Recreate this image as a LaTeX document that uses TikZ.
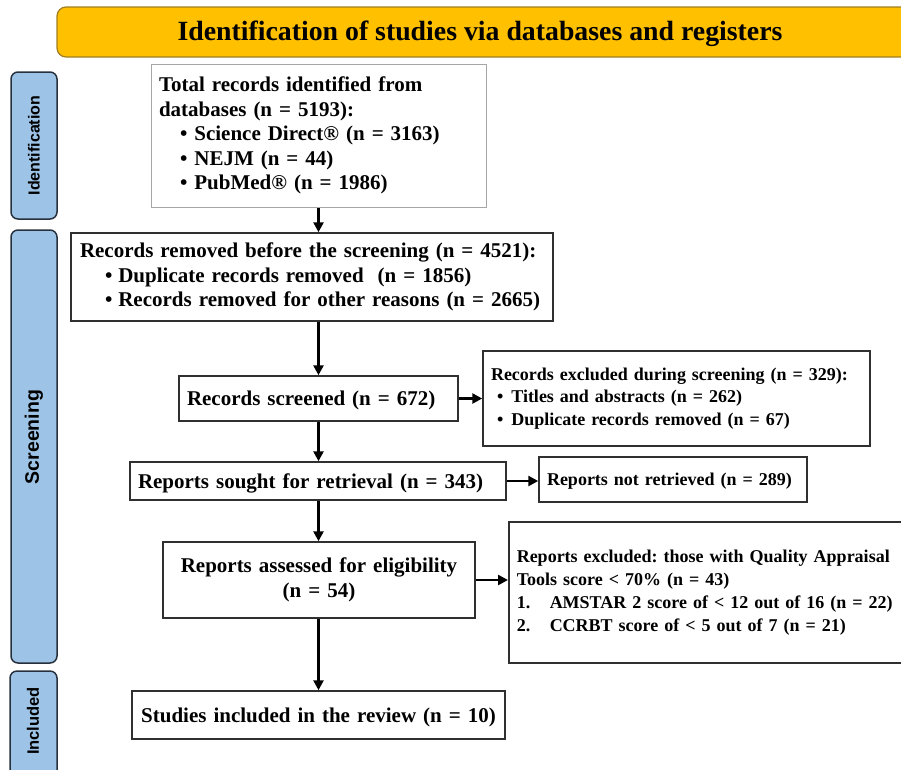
\documentclass[tikz,border=0pt]{standalone}
\usepackage{fontspec}
\setmainfont{Liberation Serif}
\newfontfamily\sidefont{Liberation Sans}
\usetikzlibrary{arrows.meta,calc}
\frenchspacing
\definecolor{banner}{HTML}{FFC000}
\definecolor{bannerdraw}{HTML}{A07E20}
\definecolor{side}{HTML}{9DC3E6}
\definecolor{sidedraw}{HTML}{27313D}
\definecolor{boxdraw}{HTML}{303030}
\tikzset{
  box/.style={draw=boxdraw, line width=1.5pt, fill=white, inner xsep=8pt, inner ysep=0pt, align=left, font=\bfseries\fontsize{21}{24.5}\selectfont},
  smallbox/.style={box, font=\bfseries\fontsize{18}{22.8}\selectfont},
  oneline/.style={text depth=0pt},
  sidebox/.style={draw=sidedraw, fill=side, line width=1.5pt, rounded corners=7pt},
  sidelabel/.style={rotate=90, font=\sidefont\bfseries},
  arr/.style={line width=2.8pt, -{Triangle[width=10pt,length=10pt]}}
}
\begin{document}
\begin{tikzpicture}[x=1pt,y=-1pt]
\useasboundingbox (0,0) rectangle (901,769);
% banner
\draw[fill=banner, draw=bannerdraw, line width=1.2pt, rounded corners=9pt] (57,7) rectangle (912,57);
\node (title) at (480,33.5) {\bfseries\fontsize{27.8}{30}\selectfont Identification of studies via databases and registers};
% side boxes
\draw[sidebox] (11,72) rectangle (57,219);
\node[sidelabel, font=\sidefont\bfseries\fontsize{16}{18}\selectfont] (lid) at (34,145.5) {Identification};
\draw[sidebox] (11,230) rectangle (57,663);
\node[sidelabel, font=\sidefont\bfseries\fontsize{19.5}{22}\selectfont] (lscr) at (34,437) {Screening};
\draw[sidebox] (10,671) rectangle (57,785);
\node[sidelabel, font=\sidefont\bfseries\fontsize{16.5}{18}\selectfont] (linc) at (33,721) {Included};
% main boxes
\node[box, draw=gray!70, line width=1pt, minimum width=335pt, minimum height=143pt, text width=319pt] (tot) at (318.5,135.5) {Total records identified from\\
databases (n = 5193):\\
\hspace*{21pt}• Science Direct® (n = 3163)\\
\hspace*{21pt}• NEJM (n = 44)\\
\hspace*{21pt}• PubMed® (n = 1986)};
\node[box, minimum width=482pt, minimum height=88pt, text width=464pt, inner xsep=9pt] (rem) at (312,277) {Records removed before the screening (n = 4521):\\
\hspace*{25pt}•\hspace{6pt}Duplicate records removed\ \ (n = 1856)\\
\hspace*{25pt}•\hspace{6pt}Records removed for other reasons (n = 2665)};
\node[box, oneline, minimum width=279pt, minimum height=45pt, text width=263pt] (scr) at (318.5,398.5) {Records screened (n = 672)};
\node[box, oneline, minimum width=376pt, minimum height=38pt, text width=360pt] (sought) at (318,481) {Reports sought for retrieval (n = 343)};
\node[box, minimum width=312pt, minimum height=76pt, text width=296pt, align=center] (assess) at (319,580) {Reports assessed for eligibility\\(n = 54)};
\node[box, oneline, minimum width=373pt, minimum height=48pt, text width=357pt, align=center] (incl) at (318.5,715) {Studies included in the review (n = 10)};
% right boxes
\node[smallbox, minimum width=387pt, minimum height=95pt, text width=371pt] (excl) at (676.5,398.5) {Records excluded during screening (n = 329):\\
\hspace*{6pt}•\hspace{8pt}Titles and abstracts (n = 262)\\
\hspace*{6pt}•\hspace{8pt}Duplicate records removed (n = 67)};
\node[smallbox, oneline, minimum width=268pt, minimum height=45pt, text width=252pt] (notr) at (673,479.5) {Reports not retrieved (n = 289)};
\node[smallbox, minimum width=400pt, minimum height=141pt, text width=384pt, anchor=west] (repx) at (508,592.5) {Reports excluded: those with Quality Appraisal\\
Tools score < 70\% (n = 43)\\
\makebox[33pt][l]{1.}AMSTAR 2 score of < 12 out of 16 (n = 22)\\
\makebox[33pt][l]{2.}CCRBT score of < 5 out of 7 (n = 21)};
% arrows
\draw[arr] (tot.south) -- (tot.south |- rem.north);
\draw[arr] (tot.south |- rem.south) -- (tot.south |- scr.north);
\draw[arr] (tot.south |- scr.south) -- (tot.south |- sought.north);
\draw[arr] (tot.south |- sought.south) -- (tot.south |- assess.north);
\draw[arr] (tot.south |- assess.south) -- (tot.south |- incl.north);
\draw[arr] (scr.east) -- (scr.east -| excl.west);
\draw[arr] (sought.east) -- (sought.east -| notr.west);
\draw[arr] (assess.east) -- (assess.east -| repx.west);
\end{tikzpicture}
\end{document}
